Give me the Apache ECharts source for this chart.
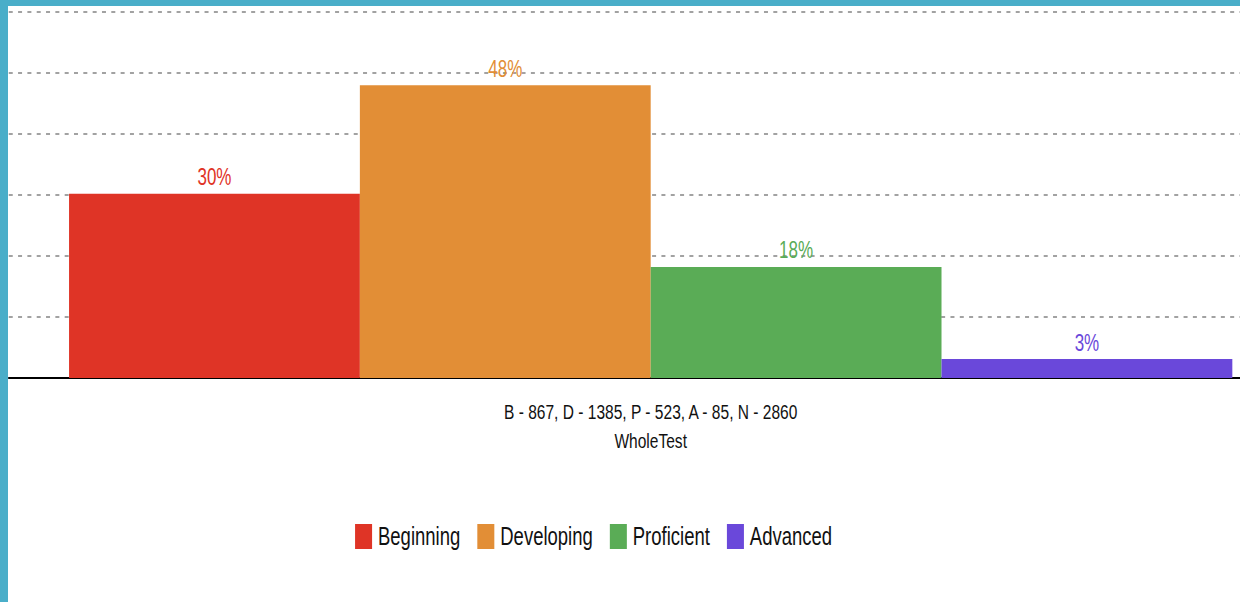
<!DOCTYPE html>
<html>
<head>
<meta charset="utf-8">
<title>WholeTest</title>
<script src="https://cdn.jsdelivr.net/npm/echarts@6/dist/echarts.min.js"></script>
<style>
    html, body { margin: 0; padding: 0; width: 1240px; height: 602px; overflow: hidden; background: #4aaec9; }
    #frame { position: absolute; left: 8px; top: 6px; width: 1232px; height: 596px; background: #fff; overflow: hidden; }
    /* the source picture is squeezed sideways, so the whole chart is drawn narrow */
    #chart { position: absolute; left: 0; top: 0; width: 1736px; height: 596px; transform: scaleX(0.74); transform-origin: 0 0; }
</style>
</head>
<body>
<div id="frame"><div id="chart"></div></div>
<script>
var categories = ['B - 867, D - 1385, P - 523, A - 85, N - 2860\nWholeTest'];
var levels = ['Beginning', 'Developing', 'Proficient', 'Advanced'];
var levelColors = ['#df3426', '#e28e36', '#5aac56', '#6a48da'];
var percents = [30.2, 48.0, 18.2, 3.1];
var yTicks = { min: 0, max: 60, interval: 10 };

var font = 'Arial, "Liberation Sans", sans-serif';

var buildSeries = function () {
    var list = [];
    for (var i = 0; i < levels.length; i++) {
        list.push({
            name: levels[i],
            type: 'bar',
            barWidth: 393,
            barGap: '0%',
            itemStyle: { color: levelColors[i] },
            label: {
                show: true,
                position: 'top',
                distance: 5,
                color: levelColors[i],
                fontFamily: font,
                fontSize: 23,
                formatter: function (p) {
                    return Math.round(p.value) + '%';
                }
            },
            data: [percents[i]]
        });
    }
    return list;
};

var chart = echarts.init(document.getElementById('chart'), null, { renderer: 'svg' });
var option = {
    animation: false,
    textStyle: { fontFamily: font },
    grid: {
        left: 1,
        right: 0,
        top: 6,
        bottom: 224
    },
    legend: {
        left: 469,
        top: 518,
        padding: 0,
        icon: 'rect',
        itemWidth: 23,
        itemHeight: 25,
        itemGap: 23,
        textStyle: { fontFamily: font, fontSize: 25, color: '#111', padding: [0, 0, 0, 3] },
        data: levels
    },
    xAxis: {
        type: 'category',
        data: categories,
        axisTick: { show: false },
        axisLine: { lineStyle: { color: '#000', width: 2 } },
        axisLabel: {
            margin: 19,
            fontFamily: font,
            fontSize: 21,
            lineHeight: 29,
            color: '#111'
        }
    },
    yAxis: {
        type: 'value',
        min: yTicks.min,
        max: yTicks.max,
        interval: yTicks.interval,
        axisLabel: { show: false },
        axisLine: { show: false },
        axisTick: { show: false },
        splitLine: {
            lineStyle: { color: '#a2a2a2', width: 2, type: [5.4, 7.2] }
        }
    },
    series: buildSeries()
};
chart.setOption(option);
</script>
</body>
</html>
